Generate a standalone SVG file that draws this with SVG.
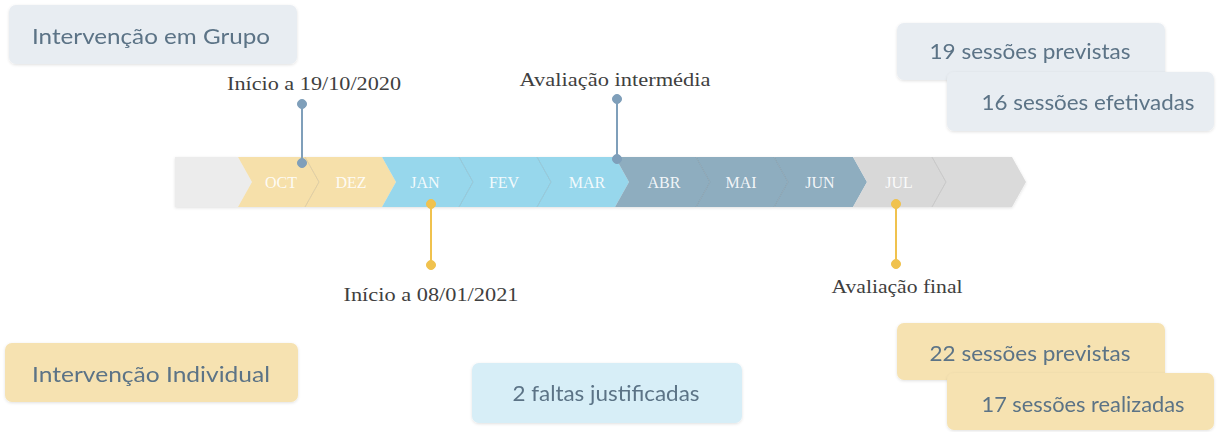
<svg xmlns="http://www.w3.org/2000/svg" width="1224" height="432" viewBox="0 0 1224 432">
<defs>
<filter id="sh" x="-10%" y="-20%" width="120%" height="150%">
<feDropShadow dx="0" dy="1" stdDeviation="1.5" flood-color="#000" flood-opacity="0.12"/>
</filter>
</defs>
<style>
.box{font-family:Lato,"Liberation Sans",sans-serif;font-size:21px;fill:#5b7386;text-anchor:middle;dominant-baseline:central}
.lbl{font-family:"Liberation Serif",serif;font-size:19px;fill:#3f3f3f;text-anchor:middle}
.mon{font-family:"Liberation Serif",serif;font-size:16px;fill:#ffffff;fill-opacity:0.9;text-anchor:middle}
.seam{fill:none;stroke:#000;stroke-opacity:0.1;stroke-width:1}
.blue{fill:#7f9fba;stroke:#7f9fba}
.gold{fill:#f0c24e;stroke:#f0c24e}
.b-grp{fill:#e8edf2}
.b-ind{fill:#f6e2b1}
.b-blu{fill:#d7eef7}
</style>
<rect width="1224" height="432" fill="#ffffff"/>

<g id="timeline" filter="url(#sh)">
<polygon points="175,157 238,157 252,182 238,207 175,207" fill="#ececec"/>
<polygon id="m-oct" points="238,157 305,157 319,182 305,207 238,207 252,182" fill="#f6e0aa"/>
<polygon id="m-dez" points="305,157 382,157 396,182 382,207 305,207 319,182" fill="#f6e0aa"/>
<polygon id="m-jan" points="382,157 459,157 473,182 459,207 382,207 396,182" fill="#97d7ec"/>
<polygon id="m-fev" points="459,157 537,157 551,182 537,207 459,207 473,182" fill="#97d7ec"/>
<polygon id="m-mar" points="537,157 615,157 629,182 615,207 537,207 551,182" fill="#97d7ec"/>
<polygon id="m-abr" points="615,157 696,157 710,182 696,207 615,207 629,182" fill="#8eadbf"/>
<polygon id="m-mai" points="696,157 774,157 788,182 774,207 696,207 710,182" fill="#8eadbf"/>
<polygon id="m-jun" points="774,157 853,157 867,182 853,207 774,207 788,182" fill="#8eadbf"/>
<polygon id="m-jul" points="853,157 932,157 946,182 932,207 853,207 867,182" fill="#d8d8d8"/>
<polygon points="932,157 1012,157 1026,182 1012,207 932,207 946,182" fill="#dadada"/>
</g>
<g id="seams">
<polyline class="seam" points="305,157 319,182 305,207"/>
<polyline class="seam" points="459,157 473,182 459,207"/>
<polyline class="seam" points="537,157 551,182 537,207"/>
<polyline class="seam" points="696,157 710,182 696,207"/>
<polyline class="seam" points="774,157 788,182 774,207"/>
<polyline class="seam" points="932,157 946,182 932,207"/>
</g>
<g id="months">
<text class="mon" x="281" y="188">OCT</text>
<text class="mon" x="351" y="188">DEZ</text>
<text class="mon" x="425" y="188">JAN</text>
<text class="mon" x="504" y="188">FEV</text>
<text class="mon" x="587" y="188">MAR</text>
<text class="mon" x="664" y="188">ABR</text>
<text class="mon" x="741" y="188">MAI</text>
<text class="mon" x="820" y="188">JUN</text>
<text class="mon" x="899" y="188">JUL</text>
</g>

<g id="connectors">
<g class="blue">
<line x1="302" y1="104" x2="302" y2="163" stroke-width="2"/>
<circle cx="302" cy="104" r="4.5"/>
<circle cx="302" cy="163" r="4.5"/>
<line x1="617" y1="99" x2="617" y2="159" stroke-width="2"/>
<circle cx="617" cy="99" r="4.5"/>
<circle cx="617" cy="159" r="4.5"/>
</g>
<g class="gold">
<line x1="431" y1="204" x2="431" y2="265" stroke-width="2"/>
<circle cx="431" cy="204" r="4.5"/>
<circle cx="431" cy="265" r="4.5"/>
<line x1="896" y1="204" x2="896" y2="264" stroke-width="2"/>
<circle cx="896" cy="204" r="4.5"/>
<circle cx="896" cy="264" r="4.5"/>
</g>
</g>

<g id="label-inicio1"><text class="lbl" x="314" y="90" textLength="174" lengthAdjust="spacingAndGlyphs">Início a 19/10/2020</text></g>
<g id="label-intermedia"><text class="lbl" x="615" y="86" textLength="191" lengthAdjust="spacingAndGlyphs">Avaliação intermédia</text></g>
<g id="label-inicio2"><text class="lbl" x="431" y="301" textLength="175" lengthAdjust="spacingAndGlyphs">Início a 08/01/2021</text></g>
<g id="label-final"><text class="lbl" x="897" y="293" textLength="131" lengthAdjust="spacingAndGlyphs">Avaliação final</text></g>

<g id="grupo" filter="url(#sh)">
<rect class="b-grp" x="9" y="5" width="288" height="59" rx="7"/>
<text class="box" x="151" y="35" textLength="238" lengthAdjust="spacingAndGlyphs">Intervenção em Grupo</text>
</g>
<g id="g-previstas" filter="url(#sh)">
<rect class="b-grp" x="897" y="23" width="268" height="57" rx="7"/>
<text class="box" x="1030" y="50" textLength="201" lengthAdjust="spacingAndGlyphs">19 sessões previstas</text>
</g>
<g id="g-efetivadas" filter="url(#sh)">
<rect class="b-grp" x="947" y="72" width="267" height="59" rx="7"/>
<text class="box" x="1088" y="101" textLength="213" lengthAdjust="spacingAndGlyphs">16 sessões efetivadas</text>
</g>
<g id="individual" filter="url(#sh)">
<rect class="b-ind" x="5" y="343" width="293" height="59" rx="7"/>
<text class="box" x="151" y="373" textLength="238" lengthAdjust="spacingAndGlyphs">Intervenção Individual</text>
</g>
<g id="faltas" filter="url(#sh)">
<rect class="b-blu" x="472" y="363" width="270" height="60" rx="7"/>
<text class="box" x="606" y="392" textLength="187" lengthAdjust="spacingAndGlyphs">2 faltas justificadas</text>
</g>
<g id="i-previstas" filter="url(#sh)">
<rect class="b-ind" x="897" y="323" width="268" height="57" rx="7"/>
<text class="box" x="1030" y="352" textLength="201" lengthAdjust="spacingAndGlyphs">22 sessões previstas</text>
</g>
<g id="i-realizadas" filter="url(#sh)">
<rect class="b-ind" x="947" y="373" width="267" height="57" rx="7"/>
<text class="box" x="1083" y="403" textLength="203" lengthAdjust="spacingAndGlyphs">17 sessões realizadas</text>
</g>
</svg>
